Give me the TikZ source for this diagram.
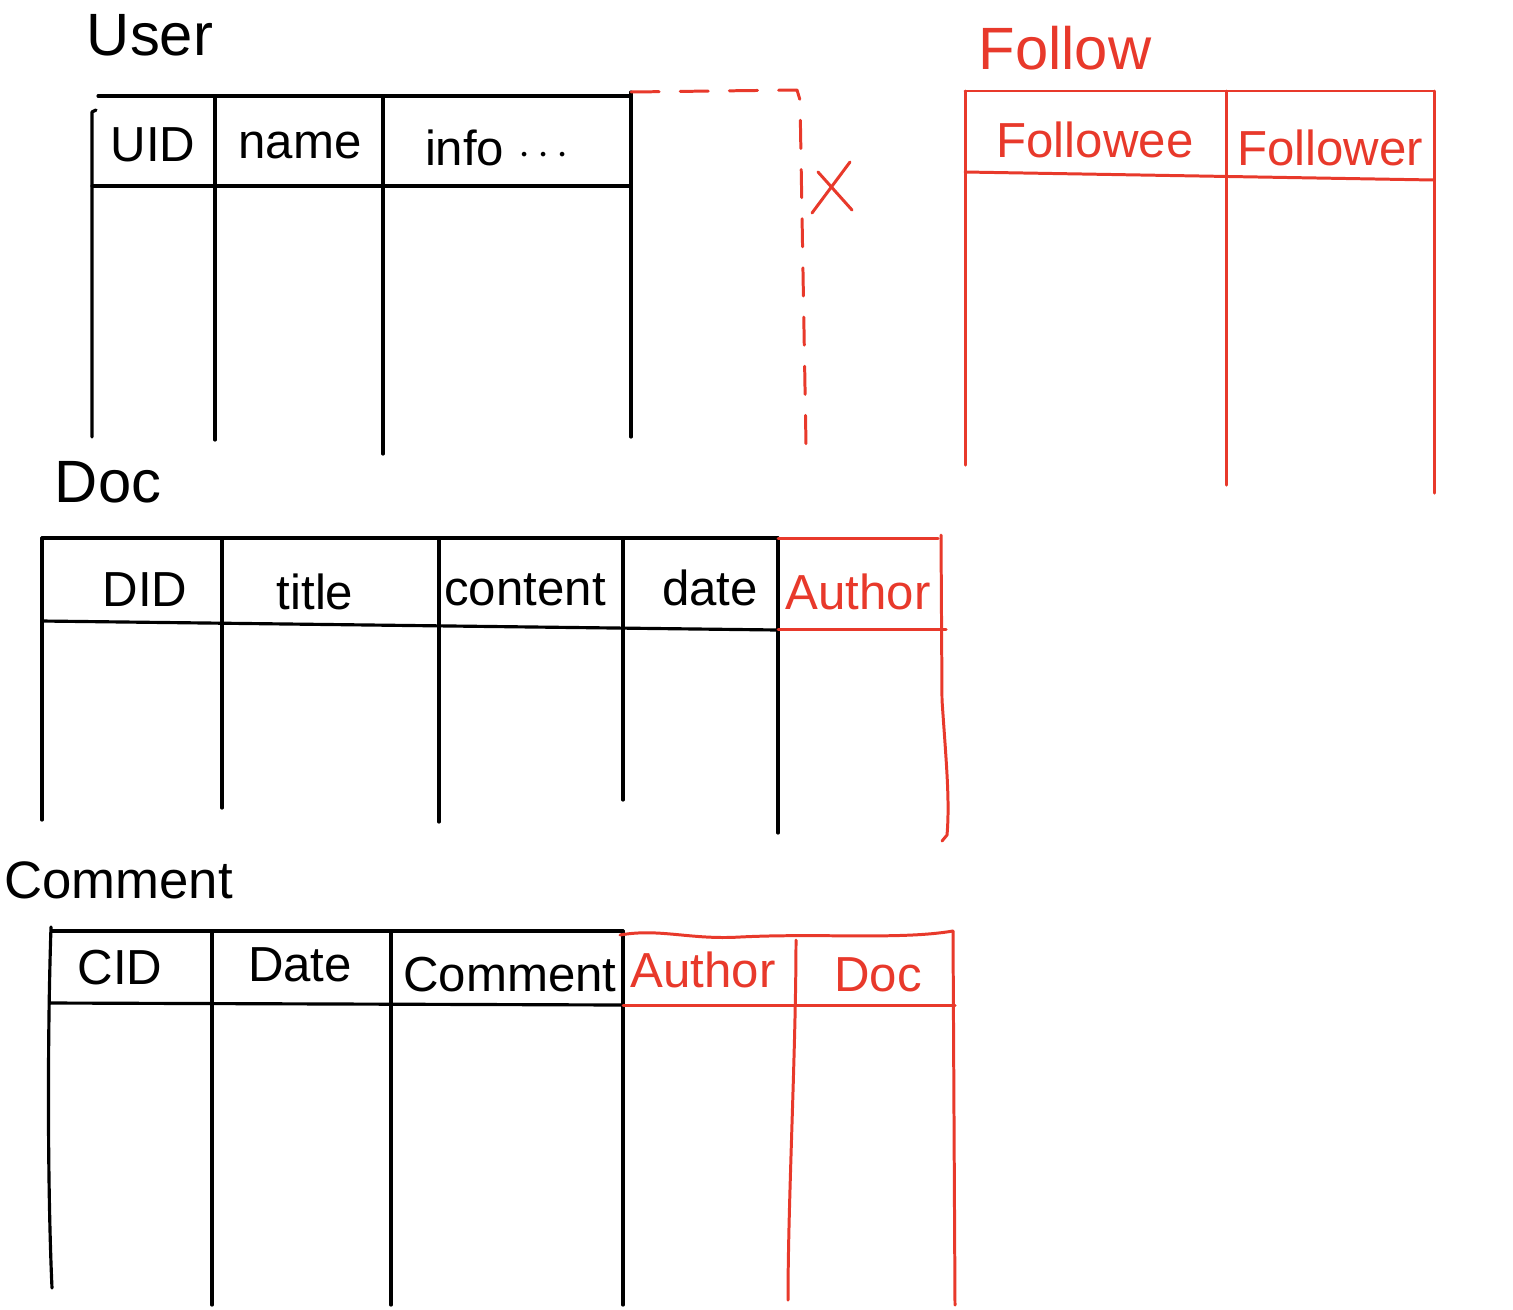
\documentclass[tikz,border=0pt]{standalone}
\usepackage{fontspec}
\setmainfont{Liberation Sans}
\definecolor{pen}{HTML}{E8392B}
\begin{document}
\begin{tikzpicture}[x=0.02cm,y=-0.02cm,
  blk/.style={line width=1.8pt,black,line cap=round,line join=round},
  rd/.style={line width=1.7pt,pen,line cap=round,line join=round},
  title/.style={font=\fontsize{34}{38}\selectfont,inner sep=0pt},
  cell/.style={font=\fontsize{28}{32}\selectfont,inner sep=0pt},
  redtxt/.style={text=pen}]
\useasboundingbox[fill=white] (0,0) rectangle (1513,1309);

% ---------- User ----------
\node[title] (tUser) at (150,35) {User};
\draw[blk] (98,96) -- (631,96);
\draw[blk] (96,110) -- (92,112) -- (92,437);
\draw[blk] (92,186) -- (631,186);
\draw[blk] (215,96) -- (215,440);
\draw[blk] (383,96) -- (383,454);
\draw[blk] (631,92) -- (631,437);
\node[cell] (uid) at (153,145) {UID};
\node[cell] (uname) at (300,145) {name};
\node[cell] (uinfo) at (497,148) {info $\cdots$};

% dashed red extension with cross
\draw[rd,dash pattern=on 16pt off 12pt] (631,92) -- (797,90) -- (800,100) -- (806,445);
\draw[rd] (812,213) -- (850,162);
\draw[rd] (818,172) -- (852,210);
\node[inner sep=0pt] (cross) at (832,187) {};

% ---------- Follow ----------
\node[title,redtxt] (tFollow) at (1065,48) {Follow};
\draw[rd] (965,91) -- (1434,91);
\draw[rd] (965,91) -- (965,465);
\draw[rd] (965,172) -- (1434,180);
\draw[rd] (1226,91) -- (1226,485);
\draw[rd] (1434,91) -- (1434,493);
\node[cell,redtxt] (followee) at (1095,140) {Followee};
\node[cell,redtxt] (follower) at (1330,148) {Follower};

% ---------- Doc ----------
\node[title] (tDoc) at (108,482) {Doc};
\draw[blk] (42,538) -- (778,538);
\draw[blk] (42,538) -- (42,820);
\draw[blk] (42,621) -- (778,630);
\draw[blk] (222,538) -- (222,808);
\draw[blk] (439,538) -- (439,822);
\draw[blk] (623,538) -- (623,800);
\draw[blk] (778,538) -- (778,833);
\draw[rd] (778,538) -- (938,538);
\draw[rd] (778,629) -- (946,629);
\draw[rd] (941,535) -- (942,700) .. controls (946,760) and (950,800) .. (947,835) -- (942,841);
\node[cell] (did) at (145,590) {DID};
\node[cell] (dtitle) at (315,592) {title};
\node[cell] (dcontent) at (525,590) {content};
\node[cell] (ddate) at (710,588) {date};
\node[cell,redtxt] (dauthor) at (858,592) {Author};

% ---------- Comment ----------
\node[title,font=\fontsize{30}{34}\selectfont,anchor=west] (tComment) at (4,880) {Comment};
\draw[blk] (52,931) -- (623,931);
\draw[blk] (51,927) .. controls (47,1050) and (48,1200) .. (52,1288);
\draw[blk] (50,1003) -- (623,1005);
\draw[blk] (212,931) -- (212,1305);
\draw[blk] (391,931) -- (391,1305);
\draw[blk] (623,931) -- (623,1305);
\draw[rd] (620,935) .. controls (660,928) and (690,940) .. (740,937) .. controls (820,933) and (900,940) .. (953,931);
\draw[rd] (623,1005) -- (955,1005);
\draw[rd] (796,940) .. controls (796,1050) and (788,1200) .. (788,1300);
\draw[rd] (953,931) -- (955,1305);
\node[cell] (cid) at (120,968) {CID};
\node[cell] (cdate) at (300,965) {Date};
\node[cell] (ccomment) at (510,975) {Comment};
\node[cell,redtxt] (cauthor) at (703,970) {Author};
\node[cell,redtxt] (cdoc) at (878,975) {Doc};
\end{tikzpicture}
\end{document}
